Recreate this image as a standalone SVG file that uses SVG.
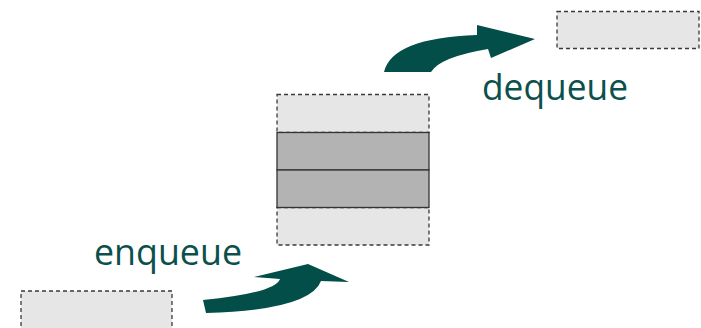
<svg xmlns="http://www.w3.org/2000/svg" width="701" height="328" viewBox="0 0 701 328">
  <style>
    .slot { fill: #e6e6e6; stroke: #3a3a3a; stroke-width: 1.3; stroke-dasharray: 4 3; }
    .item { fill: #b3b3b3; stroke: #333333; stroke-width: 1.3; }
    .arrow { fill: #034e48; stroke: none; }
    .label { font-family: "Open Sans", "Noto Sans", sans-serif; font-size: 36px; fill: #0b504c; }
  </style>
  <rect width="701" height="328" fill="#ffffff"/>

  <!-- element waiting to enter -->
  <g id="incoming">
    <rect class="slot" x="21" y="291" width="151" height="45"/>
  </g>

  <!-- queue body: free slots above and below two stored items -->
  <g id="queue">
    <rect class="slot" x="277" y="94.5" width="152" height="38"/>
    <rect class="slot" x="277" y="207.5" width="152" height="37.5"/>
    <rect class="item" x="277" y="132.5" width="152" height="37.5"/>
    <rect class="item" x="277" y="170" width="152" height="37.5"/>
  </g>

  <!-- element that has left -->
  <g id="outgoing">
    <rect class="slot" x="557" y="11.5" width="142" height="37"/>
  </g>

  <g id="connectors">
    <path class="arrow" d="M203,300 Q275,293 280,279 L254,277 L308,264 L349,282 L321,281 Q310,310 206,313 Z"/>
    <path class="arrow" d="M384,72 Q392,38 477,35 L477,25 L535,39 L491,58 L488,49 Q440,57 431,72 Z"/>
  </g>

  <g id="labels">
    <text class="label" x="94" y="265" textLength="148" lengthAdjust="spacingAndGlyphs">enqueue</text>
    <text class="label" x="482" y="100" textLength="146" lengthAdjust="spacingAndGlyphs">dequeue</text>
  </g>
</svg>
